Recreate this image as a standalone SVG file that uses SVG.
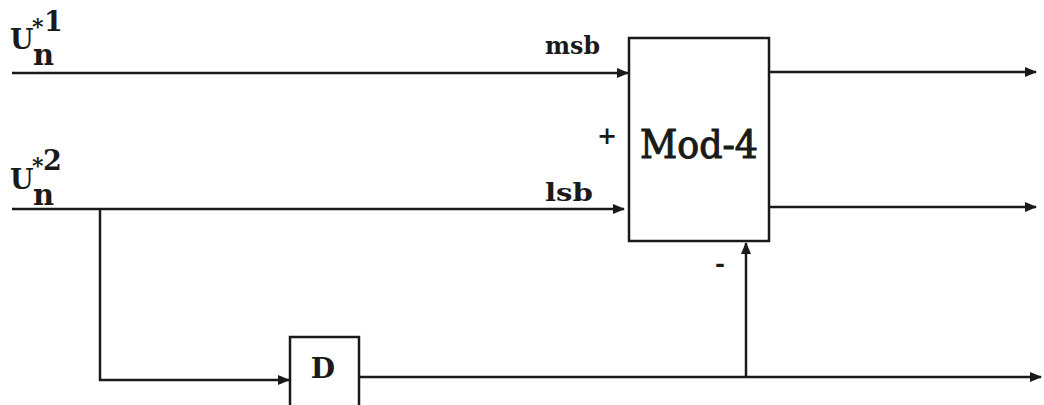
<svg xmlns="http://www.w3.org/2000/svg" width="1044" height="405" viewBox="0 0 1044 405">
<style>
.ln{stroke:#1a1a1a;stroke-width:2.5;fill:none}
.bx{stroke:#1a1a1a;stroke-width:2.5;fill:#fff}
.t{font-family:"DejaVu Serif","Liberation Serif",serif;fill:#1a1a1a;font-weight:bold}
.m{font-family:"DejaVu Serif","Liberation Serif",serif;fill:#1a1a1a;stroke:#1a1a1a;stroke-width:1.1}
</style>
<defs>
<marker id="ah" markerWidth="12" markerHeight="10" refX="11" refY="5" orient="auto" markerUnits="userSpaceOnUse">
<path d="M0,0 L12,5 L0,10 Z" fill="#1a1a1a"/>
</marker>
</defs>
<rect width="1044" height="405" fill="#fff"/>
<g id="connectors">
<line class="ln" x1="12" y1="73" x2="628" y2="73" marker-end="url(#ah)"/>
<line class="ln" x1="12" y1="209" x2="624" y2="209" marker-end="url(#ah)"/>
<line class="ln" x1="769" y1="72" x2="1036" y2="72" marker-end="url(#ah)"/>
<line class="ln" x1="769" y1="207" x2="1036" y2="207" marker-end="url(#ah)"/>
<polyline class="ln" points="100,209 100,380 289,380" marker-end="url(#ah)"/>
<line class="ln" x1="359" y1="377" x2="1041" y2="377" marker-end="url(#ah)"/>
<line class="ln" x1="746" y1="377" x2="746" y2="243" marker-end="url(#ah)"/>
</g>
<g id="mod4">
<rect class="bx" x="629" y="38" width="140" height="203"/>
<text class="m" x="699" y="158" font-size="39" text-anchor="middle" textLength="118" lengthAdjust="spacingAndGlyphs">Mod-4</text>
<text class="t" x="607" y="144" font-size="24" text-anchor="middle">+</text>
<text class="t" x="720" y="272" font-size="24" text-anchor="middle">-</text>
</g>
<g id="delay">
<rect class="bx" x="290" y="337" width="69" height="70"/>
<text class="t" x="323" y="378" font-size="28" text-anchor="middle">D</text>
</g>
<g id="labels">
<text class="t" x="545" y="54" font-size="24" textLength="55" lengthAdjust="spacingAndGlyphs">msb</text>
<text class="t" x="545" y="201" font-size="24" textLength="48" lengthAdjust="spacingAndGlyphs">lsb</text>
<text class="t" x="10" y="49" font-size="27">U</text>
<text class="t" x="33" y="65" font-size="29">n</text>
<text class="t" x="32" y="34" font-size="22">*</text>
<text class="t" x="44" y="31" font-size="27">1</text>
<text class="t" x="10" y="189" font-size="27">U</text>
<text class="t" x="33" y="205" font-size="29">n</text>
<text class="t" x="32" y="173" font-size="22">*</text>
<text class="t" x="43" y="170" font-size="27">2</text>
</g>
</svg>
